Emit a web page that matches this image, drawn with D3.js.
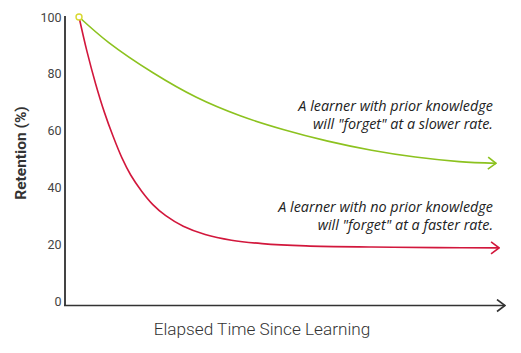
<!DOCTYPE html>
<html><head><meta charset="utf-8">
<script src="https://cdn.jsdelivr.net/npm/d3@7/dist/d3.min.js"></script>
<style>body{margin:0;background:#fff}svg{display:block}</style>
</head><body>
<svg id="c" width="521" height="353"></svg>
<script>
// Data (time in arbitrary units 0-100, retention %)
const priorTime = [3.2, 10, 20, 30, 40, 50, 60, 70, 80, 90, 98.4];
const priorRet  = [100, 91, 80.5, 71.8, 65.3, 60.4, 56.4, 53.2, 50.8, 49.2, 48.6];
const noPriorTime = [3.2, 5, 7, 9, 11, 13, 15, 17.5, 20, 23, 27, 32, 38, 45, 55, 70, 85, 99.1];
const noPriorRet  = [100, 88, 76.5, 66.5, 58, 50.5, 44.5, 38.8, 34.2, 30.2, 26.5, 23.6, 21.6, 20.4, 19.6, 19.2, 19.0, 18.9];
const yTicks = [0, 20, 40, 60, 80, 100];
const labels = {
  y: "Retention (%)",
  x: "Elapsed Time Since Learning",
  prior: ["A learner with prior knowledge", "will \"forget\" at a slower rate."],
  noPrior: ["A learner with no prior knowledge", "will \"forget\" at a faster rate."]
};

const svg = d3.select("#c");
const x = d3.scaleLinear().domain([0, 100]).range([65, 503]);
const y = d3.scaleLinear().domain([0, 100]).range([301.7, 17]);

const defs = svg.append("defs");
function marker(id, color) {
  defs.append("marker").attr("id", id).attr("viewBox", "0 0 10 14")
    .attr("refX", 9).attr("refY", 7).attr("markerWidth", 10).attr("markerHeight", 14)
    .attr("markerUnits", "userSpaceOnUse").attr("orient", "auto")
    .append("path").attr("d", "M1,1 L9,7 L1,13").attr("fill", "none")
    .attr("stroke", color).attr("stroke-width", 1.6);
}
marker("ag", "#8cc21f");
marker("ar", "#d2173c");
marker("ax", "#333");

// axes
svg.append("line").attr("x1", x(0)).attr("x2", x(0)).attr("y1", 16).attr("y2", 305.5)
  .attr("stroke", "#444").attr("stroke-width", 2);
svg.append("line").attr("x1", x(0) - 1).attr("x2", 2 + x(100)).attr("y1", 305.5).attr("y2", 305.5)
  .attr("stroke", "#333").attr("stroke-width", 1.3).attr("marker-end", "url(#ax)");

svg.append("g").selectAll("text").data(yTicks).join("text")
  .attr("x", 61.5).attr("y", d => y(d)).attr("dy", "0.36em")
  .attr("text-anchor", "end").attr("font-family", "Roboto").attr("font-size", 12.5)
  .attr("fill", "#444").text(d => d);

svg.append("text").attr("transform", "translate(26,153) rotate(-90)")
  .attr("text-anchor", "middle").attr("font-family", "Roboto").attr("font-weight", "bold")
  .attr("font-size", 15.5).attr("fill", "#333").text(labels.y);

svg.append("text").attr("x", 262).attr("y", 335)
  .attr("text-anchor", "middle").attr("font-family", "Roboto").attr("font-weight", 300)
  .attr("font-size", 17.2).attr("fill", "#333").text(labels.x);

const line = d3.line().x(d => x(d[0])).y(d => y(d[1])).curve(d3.curveCatmullRom.alpha(0.5));

svg.append("path").datum(d3.zip(noPriorTime, noPriorRet)).attr("d", line)
  .attr("fill", "none").attr("stroke", "#d2173c").attr("stroke-width", 1.6)
  .attr("marker-end", "url(#ar)");
svg.append("path").datum(d3.zip(priorTime, priorRet)).attr("d", line)
  .attr("fill", "none").attr("stroke", "#8cc21f").attr("stroke-width", 1.6)
  .attr("marker-end", "url(#ag)");

svg.append("circle").attr("cx", x(priorTime[0])).attr("cy", y(100)).attr("r", 3)
  .attr("fill", "#fff").attr("stroke", "#d8d830").attr("stroke-width", 1.4);

function ann(lines, y0) {
  svg.append("g").selectAll("text").data(lines).join("text")
    .attr("x", 493).attr("y", (d, i) => y0 + i * 18.5)
    .attr("text-anchor", "end").attr("font-family", "Open Sans").attr("font-style", "italic")
    .attr("font-size", 14.4).attr("fill", "#222").text(d => d);
}
ann(labels.prior, 110.7);
ann(labels.noPrior, 211.7);
</script>
</body></html>
